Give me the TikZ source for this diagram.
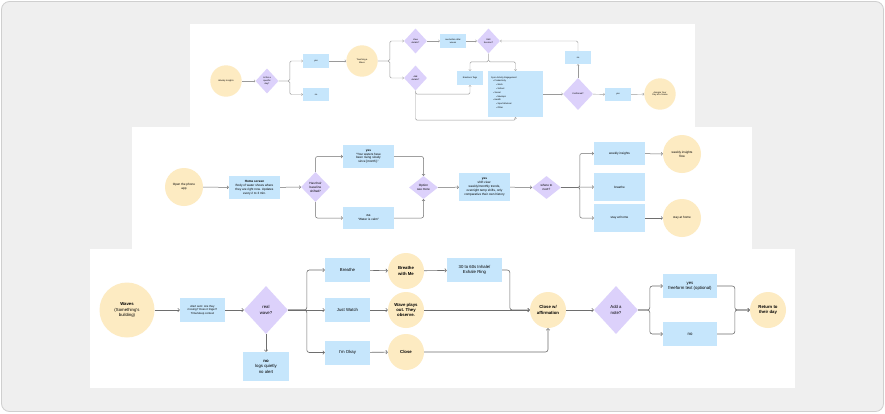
\documentclass[tikz,border=0pt]{standalone}
\usepackage{fontspec}
\setmainfont{Liberation Sans}
\usetikzlibrary{shapes.geometric,arrows.meta}
\definecolor{cbg}{HTML}{EFEFEF}
\definecolor{cframe}{HTML}{CFCFCF}
\definecolor{cyel}{HTML}{FDEBC2}
\definecolor{cpur}{HTML}{DCD1FB}
\definecolor{cblu}{HTML}{C6E6FC}
\definecolor{cln}{HTML}{6E6E6E}
\definecolor{clnl}{HTML}{9A9A9A}
\begin{document}
\begin{tikzpicture}[x=1pt,y=-1pt,
  fT/.style={font=\fontsize{2.2}{2.7}\selectfont},
  fM/.style={font=\fontsize{3.1}{3.9}\selectfont},
  fB/.style={font=\fontsize{4.3}{5.4}\selectfont},
  fBb/.style={font=\fontsize{4.3}{5.4}\selectfont\bfseries},
  circ/.style={circle,fill=cyel,inner sep=0pt,align=center},
  dia/.style={diamond,fill=cpur,inner sep=0pt,align=center},
  boxs/.style={rectangle,fill=cblu,inner sep=0pt,align=center},
  connT/.style={draw=clnl,line width=0.45pt,rounded corners=1.5pt,-{Straight Barb[length=1pt,width=2.4pt]}},
  connM/.style={draw=cln,line width=0.5pt,rounded corners=2pt,-{Straight Barb[length=1.3pt,width=3pt]}},
  connB/.style={draw=cln,line width=0.6pt,rounded corners=2.5pt,-{Straight Barb[length=1.6pt,width=3.6pt]}}
]
% background and frame
\fill[white] (0,0) rectangle (885,413);
\useasboundingbox (0,0) rectangle (885,413);
\draw[cframe,fill=cbg,line width=0.8pt,rounded corners=8pt] (1.5,1.5) rectangle (883.5,411.5);
% panels
\fill[white] (190,24) rectangle (695,135);
\fill[white] (132,127) rectangle (752,255);
\fill[white] (90,249) rectangle (795,388);

% ================= TOP PANEL =================
\begin{scope}[fT]
\node[circ,minimum size=31.4pt] (t1) at (226,81) {Weekly Insights};
\node[dia,minimum width=23pt,minimum height=25pt] (t2) at (267,81) {Is this a\\specific\\day?};
\node[boxs,minimum width=26pt,minimum height=14pt] (tyes) at (316,61) {yes};
\node[boxs,minimum width=26pt,minimum height=13pt] (tno) at (316,94.5) {no};
\node[circ,minimum size=31.4pt] (t3) at (362,61) {Touching a\\Wave};
\node[dia,minimum width=23pt,minimum height=25pt] (tview) at (415.5,41) {View\\details?};
\node[dia,minimum width=23pt,minimum height=25pt] (tadd) at (415.5,78) {Add\\details?};
\node[boxs,minimum width=26pt,minimum height=14pt] (tsee) at (453,41) {see before after\\waves};
\node[dia,minimum width=23pt,minimum height=25pt] (tedit) at (488.5,41) {Edit\\Session?};
\node[boxs,minimum width=26pt,minimum height=14pt] (temo) at (470,78) {Emotions Tags};
\node[boxs,minimum width=55pt,minimum height=46pt] (tsync) at (515.5,94) {};
\node[anchor=north west,align=left,inner sep=0pt,font=\fontsize{2.2}{3.8}\selectfont] (tsynctext) at (491,76.3) {Sync Activity Engagement\\
\hspace*{2pt}• Productivity\\
\hspace*{5pt}• Work\\
\hspace*{5pt}• School\\
\hspace*{2pt}• Social\\
\hspace*{5pt}• Meetups\\
\hspace*{2pt}• Health\\
\hspace*{5pt}• Sport Workout\\
\hspace*{5pt}• Other};
\node[dia,minimum width=30pt,minimum height=32pt] (tconf) at (578,94) {Confirmed?};
\node[boxs,minimum width=26pt,minimum height=13pt] (tno2) at (578,57.5) {no};
\node[boxs,minimum width=26pt,minimum height=13pt] (tyes2) at (618,94.5) {yes};
\node[circ,minimum size=31.4pt] (t4) at (660,94) {Assigns Your\\Day at a Scene};
\end{scope}

\draw[connT] (t1) -- (t2);
\draw[connT] (t2.east) -| ([xshift=-13pt]tyes.west) -- (tyes.west);
\draw[connT] (t2.east) -| ([xshift=-13pt]tno.west) -- (tno.west);
\draw[connT] (tyes) -- (t3);
\draw[connT] (t3.east) -| ([xshift=-14pt]tview.west) -- (tview.west);
\draw[connT] (t3.east) -| ([xshift=-14pt]tadd.west) -- (tadd.west);
\draw[connT] (tview) -- (tsee);
\draw[connT] (tsee) -- (tedit);
\draw[connT] (tedit.south) |- ([yshift=9pt]temo.north) -- (temo.north);
\draw[connT] (tedit.south) |- ([yshift=9pt]tsync.north) -- (tsync.north);
\draw[connT] (tadd.south) |- ([yshift=-9pt]temo.south) -- (temo.south);
\draw[connT] (tadd.south) |- ([yshift=-3pt]tsync.south) -- (tsync.south);
\draw[connT] (tsync) -- (tconf);
\draw[connT] (tconf) -- (tno2);
\draw[connT] (tno2.north) |- (tedit.east);
\draw[connT] (tconf) -- (tyes2);
\draw[connT] (tyes2) -- (t4);

% ================= MIDDLE PANEL =================
\begin{scope}[fM]
\node[circ,minimum size=38pt] (m1) at (184,187) {Open the phone\\app};
\node[boxs,minimum width=51pt,minimum height=23pt] (mhome) at (254.5,187.5) {\textbf{Home screen}\\Body of water shows where\\they are right now. Updates\\every 2 to 3 min.};
\node[dia,minimum width=29pt,minimum height=30pt] (mhas) at (315.5,187) {Has their\\baseline\\shifted?};
\node[boxs,minimum width=51pt,minimum height=23pt] (myes) at (368.5,156.5) {\textbf{yes}\\``Your waters have\\been rising slowly\\since [month].''};
\node[boxs,minimum width=51pt,minimum height=22pt] (mno) at (368.5,218) {\textbf{no}\\``Water is calm''};
\node[dia,minimum width=29pt,minimum height=23pt] (mopt) at (423.5,187.5) {Option\\see more};
\node[boxs,minimum width=51pt,minimum height=28pt] (mshift) at (484.5,187) {\textbf{yes}\\shift view:\\weekly/monthly trends,\\overnight temp shifts, only\\comparative their own history};
\node[dia,minimum width=29pt,minimum height=23pt] (mwhere) at (546.5,187.5) {where to\\next?};
\node[boxs,minimum width=51pt,minimum height=23pt] (mweek) at (619.5,153.5) {weekly insights};
\node[boxs,minimum width=51pt,minimum height=28pt] (mbr) at (619.5,187) {breathe};
\node[boxs,minimum width=51pt,minimum height=28pt] (mstay) at (619.5,218) {stay at home};
\node[circ,minimum size=38pt] (mcw) at (682,154) {weekly insights\\flow};
\node[circ,minimum size=38pt] (mcs) at (682,218) {stay at home};
\end{scope}

\draw[connM] (m1) -- (mhome);
\draw[connM] (mhome) -- (mhas);
\draw[connM] (mhas.north) |- (myes.west);
\draw[connM] (mhas.south) |- (mno.west);
\draw[connM] (myes.east) -| (mopt.north);
\draw[connM] (mno.east) -| (mopt.south);
\draw[connM] (mopt) -- (mshift);
\draw[connM] (mshift) -- (mwhere);
\draw[connM] (mwhere.east) -| ([xshift=-14pt]mweek.west) -- (mweek.west);
\draw[connM] (mwhere.east) -- (mbr.west);
\draw[connM] (mwhere.east) -| ([xshift=-14pt]mstay.west) -- (mstay.west);
\draw[connM] (mweek) -- (mcw);
\draw[connM] (mstay) -- (mcs);

% ================= BOTTOM PANEL =================
\node[circ,minimum size=55pt,fBb] (b1) at (127,310) {Waves\\\mdseries(Something's\\\mdseries building)};
\node[boxs,minimum width=45pt,minimum height=24pt,font=\fontsize{2.8}{3.6}\selectfont] (balert) at (202.5,310) {Alert sent: Are they\\moving? Does it linger?\\Time/sleep context};
\node[dia,minimum width=44pt,minimum height=48pt,fB] (breal) at (266,310) {real\\wave?};
\node[boxs,minimum width=46pt,minimum height=29pt,fB] (bnolog) at (266,366.5) {\textbf{no}\\logs quietly\\no alert};
\node[boxs,minimum width=45pt,minimum height=24pt,fB] (bbr) at (347.5,270) {Breathe};
\node[boxs,minimum width=45pt,minimum height=24pt,fB] (bjw) at (347.5,310) {Just Watch};
\node[boxs,minimum width=45pt,minimum height=24pt,fB] (bok) at (347.5,352.5) {I'm Okay};
\node[circ,minimum size=36pt,fBb] (cbr) at (406,271) {Breathe\\with Me};
\node[circ,minimum size=36pt,fBb] (cwp) at (406,310) {Wave plays\\out. They\\observe.};
\node[circ,minimum size=36pt,fBb] (ccl) at (406,352) {Close};
\node[boxs,minimum width=55pt,minimum height=24pt,fB] (b3060) at (474.5,270) {30 to 60s Inhale/\\Exhale Ring};
\node[circ,minimum size=36pt,fBb] (caff) at (548,310) {Close w/\\affirmation};
\node[dia,minimum width=44pt,minimum height=48pt,fB] (bnote) at (616,310) {Add a\\note?};
\node[boxs,minimum width=54pt,minimum height=24pt,fB] (byesf) at (690,286) {yes\\freeform text (optional)};
\node[boxs,minimum width=54pt,minimum height=24pt,fB] (bnof) at (690,334) {no};
\node[circ,minimum size=36pt,fBb] (cret) at (768,310) {Return to\\their day};

\draw[connB] (b1) -- (balert);
\draw[connB] (balert) -- (breal);
\draw[connB] (breal.south) -- (bnolog.north);
\draw[connB] (breal.east) -| ([xshift=-18pt]bbr.west) -- (bbr.west);
\draw[connB] (breal.east) -- (bjw.west);
\draw[connB] (breal.east) -| ([xshift=-18pt]bok.west) -- (bok.west);
\draw[connB] (bbr) -- (cbr);
\draw[connB] (bjw) -- (cwp);
\draw[connB] (bok) -- (ccl);
\draw[connB] (cbr) -- (b3060);
\draw[connB] (b3060.east) -| ([xshift=-20pt]caff.west) -- (caff.west);
\draw[connB] (cwp) -- (caff);
\draw[connB] (ccl.east) -| (caff.south);
\draw[connB] (caff) -- (bnote);
\draw[connB] (bnote.east) -| ([xshift=-13pt]byesf.west) -- (byesf.west);
\draw[connB] (bnote.east) -| ([xshift=-13pt]bnof.west) -- (bnof.west);
\draw[connB] (byesf.east) -| ([xshift=-15pt]cret.west) -- (cret.west);
\draw[connB] (bnof.east) -| ([xshift=-15pt]cret.west) -- (cret.west);
\end{tikzpicture}
\end{document}
